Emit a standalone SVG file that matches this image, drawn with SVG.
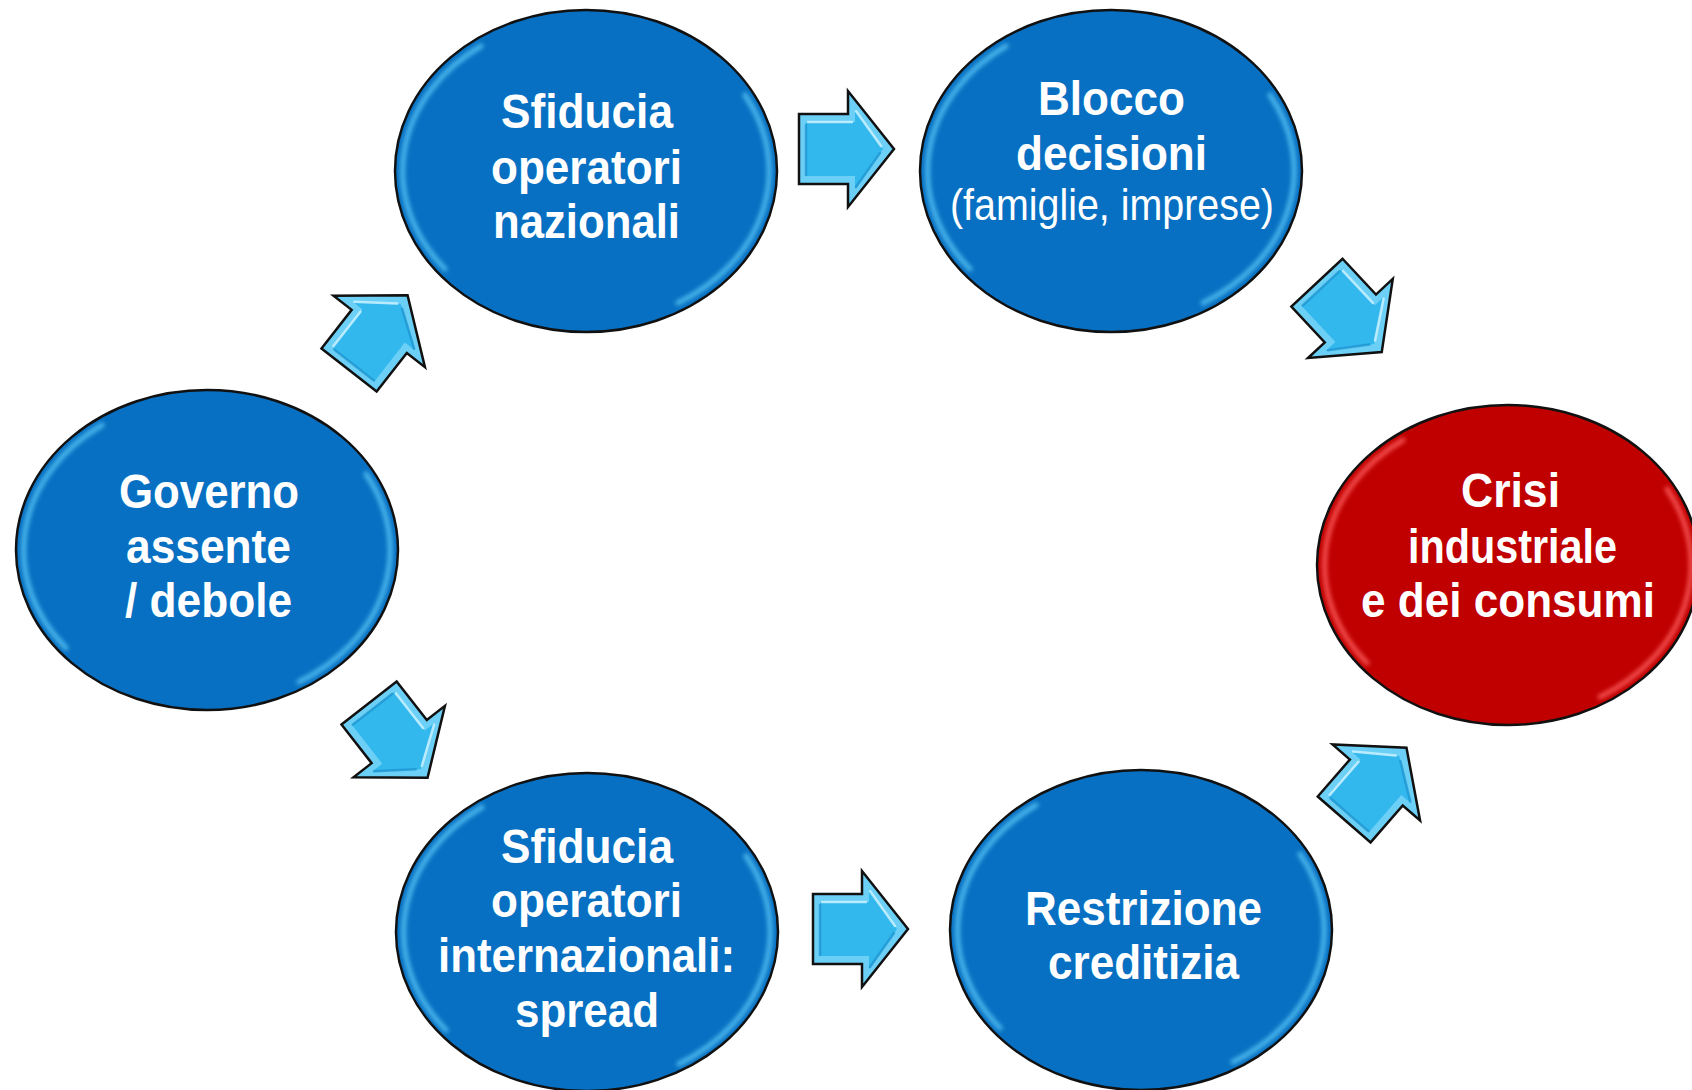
<svg xmlns="http://www.w3.org/2000/svg" xmlns:xlink="http://www.w3.org/1999/xlink" width="1692" height="1090" viewBox="0 0 1692 1090">
  <defs>
    <style>
      .blue { fill: #0870c2; stroke: #111; stroke-width: 2.5; }
      .red { fill: #c00000; stroke: #111; stroke-width: 2.5; }
      .hl { fill: none; stroke-width: 5; stroke-linecap: round; filter: url(#soft); opacity: 0.8; }
      .hlb { stroke: #5cc8f6; }
      .hlr { stroke: #ff6060; }
      .t { font-family: "Liberation Sans", Arial, sans-serif; font-weight: bold; font-size: 49px; fill: #fff; }
      .tr { font-family: "Liberation Sans", Arial, sans-serif; font-weight: normal; font-size: 44px; fill: #fff; }
      .arr-out { fill: #6cd0f6; stroke: #111; stroke-width: 2.5; stroke-linejoin: miter; }
      .arr-in { fill: #33b8ee; }
      .arr-shine { fill: none; stroke: #c4f0ff; stroke-width: 2.5; stroke-linecap: round; opacity: 0.9; }
      .arr-dark { fill: none; stroke: #1a90cc; stroke-width: 2.5; stroke-linecap: round; opacity: 0.7; }
    </style>
    <filter id="soft" x="-20%" y="-20%" width="140%" height="140%">
      <feGaussianBlur stdDeviation="2"/>
    </filter>
    <path id="hlL" d="M -105 -125 A 184 153 0 0 0 -141 98"/>
    <path id="hlR" d="M 159 -76 A 184 153 0 0 1 92 132"/>
    <g id="arrow">
      <path class="arr-out" d="M-47,-35 L2,-35 L2,-58 L48,0 L2,58 L2,35 L-47,35 Z"/>
      <path class="arr-in" d="M-40,-27 L9,-27 L9,-40 L37,0 L9,40 L9,27 L-40,27 Z"/>
      <path class="arr-shine" d="M-38,-27 L6,-27 M10,-38 L35,-3"/>
      <path class="arr-dark" d="M-40,-24 L-40,26 M10,38 L34,4"/>
    </g>
  </defs>

  <rect width="1692" height="1090" fill="#ffffff"/>

  <g id="connectors">
    <use xlink:href="#arrow" href="#arrow" transform="translate(378,333) rotate(-52)"/>
    <use xlink:href="#arrow" href="#arrow" transform="translate(846,149)"/>
    <use xlink:href="#arrow" href="#arrow" transform="translate(1349,317) rotate(47)"/>
    <use xlink:href="#arrow" href="#arrow" transform="translate(398,740) rotate(52)"/>
    <use xlink:href="#arrow" href="#arrow" transform="translate(860,929)"/>
    <use xlink:href="#arrow" href="#arrow" transform="translate(1375,784) rotate(-49)"/>
  </g>

  <g id="node-governo">
    <ellipse class="blue" cx="207" cy="550" rx="191" ry="160"/>
    <use class="hl hlb" xlink:href="#hlL" href="#hlL" transform="translate(207,550)"/>
    <use class="hl hlb" xlink:href="#hlR" href="#hlR" transform="translate(207,550)"/>
    <text class="t" x="119" y="508" textLength="180" lengthAdjust="spacingAndGlyphs">Governo</text>
    <text class="t" x="126" y="563" textLength="165" lengthAdjust="spacingAndGlyphs">assente</text>
    <text class="t" x="125" y="617" textLength="167" lengthAdjust="spacingAndGlyphs">/ debole</text>
  </g>

  <g id="node-sfiducia-nazionali">
    <ellipse class="blue" cx="586" cy="171" rx="191" ry="161"/>
    <use class="hl hlb" xlink:href="#hlL" href="#hlL" transform="translate(586,171)"/>
    <use class="hl hlb" xlink:href="#hlR" href="#hlR" transform="translate(586,171)"/>
    <text class="t" x="501" y="128" textLength="172" lengthAdjust="spacingAndGlyphs">Sfiducia</text>
    <text class="t" x="491" y="184" textLength="191" lengthAdjust="spacingAndGlyphs">operatori</text>
    <text class="t" x="493" y="238" textLength="187" lengthAdjust="spacingAndGlyphs">nazionali</text>
  </g>

  <g id="node-blocco">
    <ellipse class="blue" cx="1111" cy="171" rx="191" ry="161"/>
    <use class="hl hlb" xlink:href="#hlL" href="#hlL" transform="translate(1111,171)"/>
    <use class="hl hlb" xlink:href="#hlR" href="#hlR" transform="translate(1111,171)"/>
    <text class="t" x="1038" y="115" textLength="147" lengthAdjust="spacingAndGlyphs">Blocco</text>
    <text class="t" x="1016" y="170" textLength="191" lengthAdjust="spacingAndGlyphs">decisioni</text>
    <text class="tr" x="950" y="220" textLength="324" lengthAdjust="spacingAndGlyphs">(famiglie, imprese)</text>
  </g>

  <g id="node-crisi">
    <ellipse class="red" cx="1508" cy="565" rx="191" ry="160"/>
    <use class="hl hlr" xlink:href="#hlL" href="#hlL" transform="translate(1508,565)"/>
    <use class="hl hlr" xlink:href="#hlR" href="#hlR" transform="translate(1508,565)"/>
    <text class="t" x="1461" y="507" textLength="99" lengthAdjust="spacingAndGlyphs">Crisi</text>
    <text class="t" x="1408" y="563" textLength="209" lengthAdjust="spacingAndGlyphs">industriale</text>
    <text class="t" x="1361" y="617" textLength="294" lengthAdjust="spacingAndGlyphs">e dei consumi</text>
  </g>

  <g id="node-sfiducia-internazionali">
    <ellipse class="blue" cx="587" cy="932" rx="191" ry="159"/>
    <use class="hl hlb" xlink:href="#hlL" href="#hlL" transform="translate(587,932)"/>
    <use class="hl hlb" xlink:href="#hlR" href="#hlR" transform="translate(587,932)"/>
    <text class="t" x="501" y="863" textLength="172" lengthAdjust="spacingAndGlyphs">Sfiducia</text>
    <text class="t" x="491" y="917" textLength="191" lengthAdjust="spacingAndGlyphs">operatori</text>
    <text class="t" x="438" y="972" textLength="297" lengthAdjust="spacingAndGlyphs">internazionali:</text>
    <text class="t" x="515" y="1027" textLength="144" lengthAdjust="spacingAndGlyphs">spread</text>
  </g>

  <g id="node-restrizione">
    <ellipse class="blue" cx="1141" cy="930" rx="191" ry="160"/>
    <use class="hl hlb" xlink:href="#hlL" href="#hlL" transform="translate(1141,930)"/>
    <use class="hl hlb" xlink:href="#hlR" href="#hlR" transform="translate(1141,930)"/>
    <text class="t" x="1025" y="925" textLength="237" lengthAdjust="spacingAndGlyphs">Restrizione</text>
    <text class="t" x="1048" y="979" textLength="191" lengthAdjust="spacingAndGlyphs">creditizia</text>
  </g>
</svg>
